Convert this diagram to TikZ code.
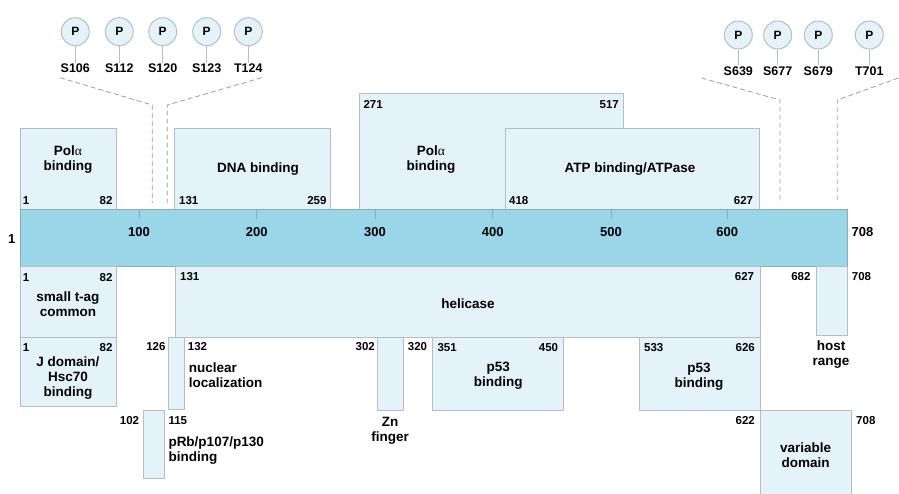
\documentclass[tikz,border=0pt]{standalone}
\usepackage{fontspec}
\setmainfont{Liberation Sans}
\newfontfamily\greekfont{Liberation Serif}
\usetikzlibrary{fit}
\definecolor{barblue}{HTML}{98D6E8}
\definecolor{barline}{HTML}{8FAAB4}
\definecolor{boxblue}{HTML}{E4F3F9}
\definecolor{boxline}{HTML}{B4BFC3}
\definecolor{dashgray}{HTML}{9C9C9C}
\newcommand\pola{Pol{\greekfont\mdseries α}}
\tikzset{
  dom/.style={draw=boxline, fill=boxblue, line width=1pt, inner sep=0pt, outer sep=0pt},
  lab/.style={font=\fontsize{13.5}{15}\selectfont\bfseries, align=center, inner sep=0pt},
  labl/.style={lab, align=left, anchor=west},
  num/.style={font=\fontsize{11.5}{12}\selectfont\bfseries, inner sep=0pt},
  ticklab/.style={font=\fontsize{13}{14}\selectfont\bfseries, inner sep=0pt},
  phos/.style={circle, draw=boxline, fill=boxblue, line width=1pt, minimum size=28pt,
    inner sep=0pt, font=\fontsize{12}{12}\selectfont\bfseries},
  site/.style={font=\fontsize{12.5}{13}\selectfont\bfseries, inner sep=1pt},
  stem/.style={draw=boxline, line width=1pt},
  link/.style={draw=dashgray, dash pattern=on 5pt off 3pt, line width=0.8pt}
}
\begin{document}
\begin{tikzpicture}[x=1pt,y=-1pt]
\useasboundingbox (0,0) rectangle (899,493);
% phosphorylation sites
\foreach \x/\lab [count=\i] in {75.3/S106,119.3/S112,162.7/S120,206.7/S123,248.3/T124}{
  \node[phos] (pl\i) at (\x,31.7) {P};
  \node[site] (sl\i) at (\x,68.3) {\lab};
  \draw[stem] (pl\i) -- (sl\i);
}
\foreach \x/\lab [count=\i] in {738.3/S639,777.7/S677,818.3/S679,869.3/T701}{
  \node[phos] (pr\i) at (\x,35) {P};
  \node[site] (sr\i) at (\x,71) {\lab};
  \draw[stem] (pr\i) -- (sr\i);
}
\coordinate (la) at (60,77.7);
\coordinate (lb) at (152.3,105);
\coordinate (lc) at (152.3,203);
\coordinate (ra) at (261.7,77.7);
\coordinate (rb) at (167.3,105);
\coordinate (rc) at (167.3,203);
\coordinate (ta) at (701.7,78);
\coordinate (tb) at (780,100);
\coordinate (tc) at (780,203);
\coordinate (ua) at (898.3,78);
\coordinate (ub) at (837.3,100);
\coordinate (uc) at (837.3,203);
\draw[link] (la) -- (lb) -- (lc);
\draw[link] (ra) -- (rb) -- (rc);
\draw[link] (ta) -- (tb) -- (tc);
\draw[link] (ua) -- (ub) -- (uc);

% domains above
\node[dom, fit={(359.3,93.3) (623.3,209)}] (pola2) {};
\node[dom, fit={(20,128) (116.7,209)}] (pola1) {};
\node[dom, fit={(174,128) (330,209)}] (dna) {};
\node[dom, fit={(505.7,128) (759,209)}] (atp) {};
\node[lab] (tpola1) at (68,159.5) {\pola\\binding};
\node[lab] (tdna) at (258,169.3) {DNA binding};
\node[lab] (tpola2) at (431,159.5) {\pola\\binding};
\node[lab] (tatp) at (630,169.3) {ATP binding/ATPase};
\node[num, anchor=west] (n1a) at (22.7,201) {1};
\node[num, anchor=east] (n82a) at (112.7,201) {82};
\node[num, anchor=west] (n131a) at (179,201) {131};
\node[num, anchor=east] (n259) at (326.7,201) {259};
\node[num, anchor=west] (n271) at (363.3,104.3) {271};
\node[num, anchor=east] (n517) at (619,104.3) {517};
\node[num, anchor=west] (n418) at (509,201) {418};
\node[num, anchor=east] (n627a) at (753.3,201) {627};

% the protein
\node[draw=barline, fill=barblue, line width=1pt, inner sep=0pt, fit={(20,209) (847,266)}] (bar) {};
\foreach \x/\t in {139/100,256.7/200,375/300,492.7/400,611/500,727.3/600}{
  \draw[draw=barline, line width=0.8pt] (\x,209) -- (\x,219);
  \node[ticklab] at (\x,231.7) {\t};
}
\node[ticklab] (first) at (11.7,239) {1};
\node[ticklab, anchor=west] (last) at (851.5,231.7) {708};

% domains below
\node[dom, fit={(20,266) (116.7,337.7)}] (small) {};
\node[dom, fit={(175.7,266) (760,337.7)}] (heli) {};
\node[dom, fit={(816,266) (847,335.7)}] (host) {};
\node[dom, fit={(20,337.7) (116.7,406.7)}] (jdom) {};
\node[dom, fit={(168.7,337.7) (184.3,409.3)}] (nls) {};
\node[dom, fit={(143.3,410) (164.3,478.3)}] (prb) {};
\node[dom, fit={(377.7,337.7) (403.3,410)}] (zn) {};
\node[dom, fit={(432.7,337.7) (563.3,410)}] (pfa) {};
\node[dom, fit={(639.3,337.7) (760,410)}] (pfb) {};
\node[dom, fit={(760,410) (851,497)}] (var) {};

\node[lab] (tsmall) at (68,304) {small t-ag\\common};
\node[lab] (theli) at (468,303.3) {helicase};
\node[lab] (thost) at (831,355) {host\\range};
\node[lab] (tjdom) at (68,378.3) {J domain/\\Hsc70\\binding};
\node[labl] (tnls) at (188.7,375.3) {nuclear\\localization};
\node[labl] (tprb) at (168.3,450.2) {pRb/p107/p130\\binding};
\node[lab] (tzn) at (390,430.3) {Zn\\finger};
\node[lab] (tpfa) at (498.3,375.5) {p53\\binding};
\node[lab] (tpfb) at (699,376.5) {p53\\binding};
\node[lab] (tvar) at (805.7,455.3) {variable\\domain};

\node[num, anchor=west] (n1b) at (22.7,277.8) {1};
\node[num, anchor=east] (n82b) at (112.7,277.8) {82};
\node[num, anchor=west] (n131b) at (180,276.7) {131};
\node[num, anchor=east] (n627b) at (754.3,277) {627};
\node[num, anchor=east] (n682) at (810.7,277) {682};
\node[num, anchor=west] (n708a) at (851.7,277) {708};
\node[num, anchor=west] (n1c) at (22.7,347.3) {1};
\node[num, anchor=east] (n82c) at (112.7,347.3) {82};
\node[num, anchor=east] (n126) at (165.7,347) {126};
\node[num, anchor=west] (n132) at (187.7,347) {132};
\node[num, anchor=east] (n102) at (139.3,421) {102};
\node[num, anchor=west] (n115) at (168.3,421) {115};
\node[num, anchor=east] (n302) at (375,347) {302};
\node[num, anchor=west] (n320) at (407.7,347) {320};
\node[num, anchor=west] (n351) at (437.3,347.5) {351};
\node[num, anchor=east] (n450) at (558.3,347.5) {450};
\node[num, anchor=west] (n533) at (644,347.5) {533};
\node[num, anchor=east] (n626) at (755,347.5) {626};
\node[num, anchor=east] (n622) at (755,420.7) {622};
\node[num, anchor=west] (n708b) at (856,420.7) {708};
\end{tikzpicture}
\end{document}
